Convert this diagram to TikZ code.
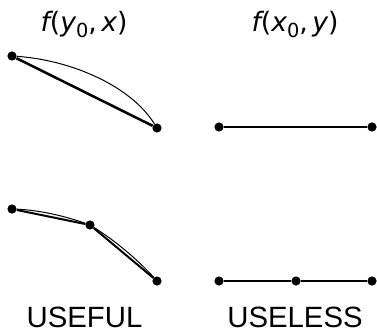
\documentclass[tikz,border=0pt]{standalone}
\usepackage{fontspec}
\setmainfont{Liberation Sans}
\newfontfamily\dv{DejaVu Sans}
\newcommand{\sub}[1]{\raisebox{-0.22em}{\fontsize{14.5}{15}\selectfont\upshape #1}}
\newcommand{\vi}[1]{{\itshape #1}}
\begin{document}
\begin{tikzpicture}[x=0.75pt,y=-0.75pt,
  dot/.style={circle,fill=black,inner sep=0pt,minimum size=6.9pt},
  thick line/.style={line width=1.9pt},
  mid line/.style={line width=1.5pt},
  thin line/.style={line width=0.75pt},
  mathlabel/.style={anchor=base,inner sep=0pt,font=\fontsize{20}{24}\selectfont\dv},
  caplabel/.style={anchor=base,inner sep=0pt,font=\fontsize{22}{26}\selectfont}]
\useasboundingbox (0,0) rectangle (377,334);
% titles
\node[mathlabel] (t1) at (84,32) {\vi{f}(\vi{y}\sub{0},\,\vi{x})};
\node[mathlabel] (t2) at (295,32) {\vi{f}(\vi{x}\sub{0},\,\vi{y})};
% top left
\node[dot] (a1) at (12,56) {};
\node[dot] (a2) at (157,128) {};
\draw[thick line] (a1) -- (a2);
\draw[thin line] (a1) .. controls (70,60) and (130,85) .. (a2);
% top right
\node[dot] (b1) at (219,127) {};
\node[dot] (b2) at (372,127) {};
\draw[mid line] (b1) -- (b2);
% bottom left
\node[dot] (c1) at (12,209) {};
\node[dot] (c2) at (90,225) {};
\node[dot] (c3) at (157,281) {};
\draw[mid line] (c1) -- (c2);
\draw[mid line] (c2) -- (c3);
\draw[thin line] (c1) .. controls (38,210) and (64,215.7) .. (c2);
\draw[thin line] (c2) .. controls (114.9,240.6) and (137.3,259.2) .. (c3);
% bottom right
\node[dot] (d1) at (219,281) {};
\node[dot] (d2) at (296,281) {};
\node[dot] (d3) at (372,281) {};
\draw[mid line] (d1) -- (d2);
\draw[mid line] (d2) -- (d3);
% captions
\node[caplabel] (u1) at (84.5,327) {USEFUL};
\node[caplabel] (u2) at (295,327) {USELESS};
\end{tikzpicture}
\end{document}
